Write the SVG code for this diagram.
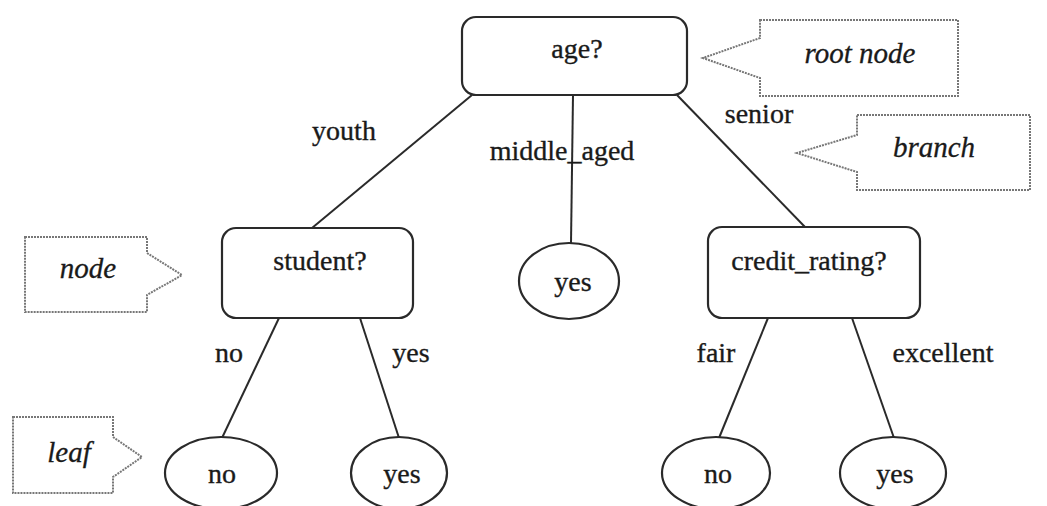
<svg xmlns="http://www.w3.org/2000/svg" width="1047" height="506" viewBox="0 0 1047 506" font-family="'Liberation Serif', 'Times New Roman', Tinos, 'DejaVu Serif', serif">
  <style>
    .box { fill: #fff; stroke: #2a2a2a; stroke-width: 2.2; }
    .leaf { fill: #fff; stroke: #2a2a2a; stroke-width: 2.2; }
    .edge { stroke: #2a2a2a; stroke-width: 2; fill: none; }
    .call { fill: #fff; stroke: #777; stroke-width: 2; stroke-dasharray: 2 1; }
    .t { font-family: 'Liberation Serif', 'Times New Roman', Tinos, 'DejaVu Serif', serif; font-size: 28px; fill: #1a1a1a; stroke: #1a1a1a; stroke-width: 0.35; text-anchor: middle; }
    .ti { font-family: 'Liberation Serif', 'Times New Roman', Tinos, 'DejaVu Serif', serif; font-size: 29px; font-style: italic; fill: #1a1a1a; stroke: #1a1a1a; stroke-width: 0.3; text-anchor: middle; }
  </style>
  <rect width="1047" height="506" fill="#fff"/>

  <!-- tree connectors and branch labels -->
  <g id="connectors">
    <line class="edge" x1="472" y1="95" x2="312" y2="228"/>
    <line class="edge" x1="573" y1="95" x2="571" y2="243"/>
    <line class="edge" x1="677" y1="95" x2="805" y2="227"/>
    <line class="edge" x1="279" y1="318" x2="222" y2="438"/>
    <line class="edge" x1="360" y1="318" x2="399" y2="438"/>
    <line class="edge" x1="768" y1="318" x2="719" y2="438"/>
    <line class="edge" x1="852" y1="318" x2="894" y2="438"/>
    <text class="t" x="344" y="140">youth</text>
    <text class="t" x="562" y="160">middle_aged</text>
    <text class="t" x="759" y="123">senior</text>
    <text class="t" x="229" y="362">no</text>
    <text class="t" x="411" y="362">yes</text>
    <text class="t" x="716" y="362">fair</text>
    <text class="t" x="943" y="362">excellent</text>
  </g>

  <!-- decision nodes -->
  <g id="node-age">
    <rect class="box" x="462" y="17" width="225" height="78" rx="14"/>
    <text class="t" x="577" y="58">age?</text>
  </g>
  <g id="node-student">
    <rect class="box" x="222" y="228" width="191" height="90" rx="14"/>
    <text class="t" x="320" y="270">student?</text>
  </g>
  <g id="node-credit">
    <rect class="box" x="708" y="227" width="212" height="91" rx="14"/>
    <text class="t" x="809" y="270">credit_rating?</text>
  </g>

  <!-- leaves -->
  <g id="leaf-middle-yes">
    <ellipse class="leaf" cx="569" cy="281" rx="50" ry="38"/>
    <text class="t" x="573" y="291">yes</text>
  </g>
  <g id="leaf-student-no">
    <ellipse class="leaf" cx="221" cy="473" rx="56" ry="36"/>
    <text class="t" x="222" y="483">no</text>
  </g>
  <g id="leaf-student-yes">
    <ellipse class="leaf" cx="399" cy="473" rx="48" ry="36"/>
    <text class="t" x="402" y="483">yes</text>
  </g>
  <g id="leaf-credit-no">
    <ellipse class="leaf" cx="716" cy="473" rx="54" ry="36"/>
    <text class="t" x="718" y="483">no</text>
  </g>
  <g id="leaf-credit-yes">
    <ellipse class="leaf" cx="893" cy="473" rx="53" ry="36"/>
    <text class="t" x="895" y="483">yes</text>
  </g>

  <!-- annotation callouts -->
  <g id="callout-root">
    <path class="call" d="M760 20 H958 V96 H760 V78 L703 58 L760 38 Z"/>
    <text class="ti" x="860" y="63">root node</text>
  </g>
  <g id="callout-branch">
    <path class="call" d="M857 115 H1030 V190 H857 V172 L797 153 L857 135 Z"/>
    <text class="ti" x="934" y="157">branch</text>
  </g>
  <g id="callout-node">
    <path class="call" d="M25 237 H147 V253 L182 275 L147 295 V312 H25 Z"/>
    <text class="ti" x="88" y="278">node</text>
  </g>
  <g id="callout-leaf">
    <path class="call" d="M13 417 H113 V437 L142 457 L113 477 V493 H13 Z"/>
    <text class="ti" x="69" y="462">leaf</text>
  </g>
</svg>
